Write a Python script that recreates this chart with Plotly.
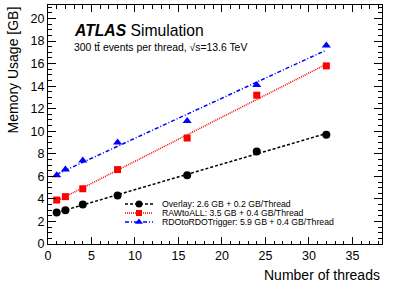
import numpy as np
import plotly.graph_objects as go

# ---- data ----
threads = [1, 2, 4, 8, 16, 24, 32]
overlay_mem = [2.8, 3.0, 3.5, 4.3, 6.1, 8.2, 9.7]
rawtoall_mem = [3.9, 4.2, 4.9, 6.6, 9.4, 13.2, 15.8]
rdotrig_mem = [6.1, 6.6, 7.4, 9.0, 10.9, 14.1, 17.6]

series_names = ["Overlay", "RAWtoALL", "RDOtoRDOTrigger"]
legend_labels = [
    "Overlay: 2.6 GB + 0.2 GB/Thread",
    "RAWtoALL: 3.5 GB + 0.4 GB/Thread",
    "RDOtoRDOTrigger: 5.9 GB + 0.4 GB/Thread",
]
x_ticks = [0, 5, 10, 15, 20, 25, 30, 35]
y_ticks = [0, 2, 4, 6, 8, 10, 12, 14, 16, 18, 20]

# ---- styles ----
colors = ["#000000", "#ff0000", "#0000ff"]
symbols = ["circle", "square", "triangle-up"]
msizes = [8, 7, 8]
dashes = ["3px,2px", "1px,1px", "4px,2px,1px,2px"]
FONT = "Liberation Sans, Arial, Helvetica, sans-serif"

W, H = 399, 286
L, R, T, B = 48, 17, 5, 42
x0, x1 = L, W - R
y_top, y_bot = T, H - B

fig = go.Figure()
all_y = [overlay_mem, rawtoall_mem, rdotrig_mem]
xs = np.array(threads, dtype=float)
for name, ys, c, s, ms, d in zip(series_names, all_y, colors, symbols, msizes, dashes):
    slope, icpt = np.polyfit(xs, np.array(ys), 1)
    xf = np.array([xs.min(), xs.max()])
    fig.add_trace(go.Scatter(x=xf, y=icpt + slope * xf, mode="lines",
                             line=dict(color=c, width=1.5, dash=d),
                             showlegend=False, hoverinfo="skip"))
    fig.add_trace(go.Scatter(x=threads, y=ys, mode="markers", name=name,
                             marker=dict(color=c, symbol=s, size=ms, line=dict(width=0)),
                             showlegend=False))

# ---- manual legend (pixel coordinates on hidden overlay axes) ----
leg_x0, leg_xm, leg_x1, leg_tx = 125, 139, 153, 160
leg_rows = [204, 213, 222]
for lab, c, s, ms, d, ry in zip(legend_labels, colors, symbols, msizes, dashes, leg_rows):
    fig.add_trace(go.Scatter(x=[leg_x0, leg_x1], y=[ry, ry], mode="lines",
                             xaxis="x2", yaxis="y2",
                             line=dict(color=c, width=1.5, dash=d),
                             showlegend=False, hoverinfo="skip"))
    fig.add_trace(go.Scatter(x=[leg_xm], y=[ry], mode="markers",
                             xaxis="x2", yaxis="y2",
                             marker=dict(color=c, symbol=s, size=ms - 1, line=dict(width=0)),
                             showlegend=False, hoverinfo="skip"))
    fig.add_annotation(x=leg_tx, y=ry, xref="x2", yref="y2", text=lab,
                       showarrow=False, xanchor="left", yanchor="middle",
                       font=dict(family=FONT, size=8.7, color="black"))

axis_common = dict(
    showgrid=False, zeroline=False, showline=True, linecolor="black", linewidth=1,
    ticks="inside", mirror="ticks", tickcolor="black", tickwidth=1,
    tickfont=dict(family=FONT, size=12.5, color="black"),
)
fig.update_layout(
    width=W, height=H,
    margin=dict(l=L, r=R, t=T, b=B, pad=0),
    paper_bgcolor="white", plot_bgcolor="white",
    showlegend=False,
    xaxis=dict(range=[0, 38.4], tickmode="array", tickvals=x_ticks, ticklen=7,
               minor=dict(dtick=1, ticklen=3.5, ticks="inside", tickcolor="black"),
               **axis_common),
    yaxis=dict(range=[0, 21.2], tickmode="array", tickvals=y_ticks, ticklen=8,
               minor=dict(dtick=0.5, ticklen=4, ticks="inside", tickcolor="black"),
               **axis_common),
    xaxis2=dict(overlaying="x", range=[x0, x1], visible=False),
    yaxis2=dict(overlaying="y", range=[y_bot, y_top], visible=False),
)

# ---- titles and labels ----
fig.add_annotation(x=(12 - L) / (x1 - x0), y=1, xref="paper", yref="paper",
                   text="Memory Usage [GB]", textangle=-90, showarrow=False,
                   xanchor="center", yanchor="top",
                   font=dict(family=FONT, size=14, color="black"))
fig.add_annotation(x=1, y=(y_bot - 275) / (y_bot - y_top), xref="paper", yref="paper",
                   text="Number of threads", showarrow=False,
                   xanchor="right", yanchor="middle",
                   font=dict(family=FONT, size=14, color="black"))
fig.add_annotation(x=(72 - L) / (x1 - x0), y=(y_bot - 31) / (y_bot - y_top),
                   xref="paper", yref="paper",
                   text="<b><i>ATLAS</i></b> Simulation", showarrow=False,
                   xanchor="left", yanchor="middle",
                   font=dict(family=FONT, size=15.7, color="black"))
fig.add_annotation(x=(72 - L) / (x1 - x0), y=(y_bot - 47) / (y_bot - y_top),
                   xref="paper", yref="paper",
                   text="300 tt\u0304 events per thread, \u221As=13.6 TeV", showarrow=False,
                   xanchor="left", yanchor="middle",
                   font=dict(family=FONT, size=10.4, color="black"))

fig.write_html("out.html", config={"displayModeBar": False},
               post_script="document.body.style.margin='0px';document.body.style.padding='0px';")
